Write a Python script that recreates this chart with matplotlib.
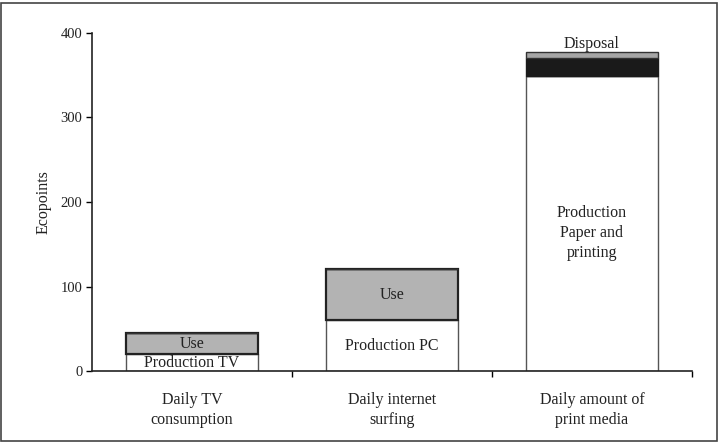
import matplotlib
matplotlib.use("Agg")
import matplotlib.pyplot as plt
from matplotlib.patches import Rectangle

categories = ["Daily TV\nconsumption", "Daily internet\nsurfing", "Daily amount of\nprint media"]
production = [20, 60, 349]
use = [25, 61, 0]
transport = [0, 0, 21]
disposal = [0, 0, 7]

production_labels = ["Production TV", "Production PC", "Production\nPaper and\nprinting"]
yticks = [0, 100, 200, 300, 400]

plt.rcParams["font.family"] = ["Liberation Serif", "DejaVu Serif"]
plt.rcParams["font.size"] = 10.5

fig = plt.figure(figsize=(7.26, 4.44), dpi=100)
ax = fig.add_axes([92 / 726, 73 / 444, 600 / 726, 338 / 444])

x = list(range(len(categories)))
w = 0.66
txt = "#222222"
fs = 11.5

ax.bar(x, production, width=w, color="white", edgecolor="#555555", linewidth=1.0, zorder=2)
ax.bar(x, use, width=w, bottom=production, color="#b3b3b3", edgecolor="#222222",
       linewidth=1.6, zorder=3)
b2 = [p + u for p, u in zip(production, use)]
ax.bar(x, transport, width=w, bottom=b2, color="#1a1a1a", edgecolor="#1a1a1a",
       linewidth=1.0, zorder=3)
b3 = [b + t for b, t in zip(b2, transport)]
ax.bar(x, disposal, width=w, bottom=b3, color="#a6a6a6", edgecolor="#333333",
       linewidth=1.0, zorder=3)

# labels inside segments
for i in x:
    if use[i] > 0:
        ax.text(i, production[i] + use[i] / 2, "Use", ha="center", va="center",
                fontsize=fs, color=txt, zorder=4)
ax.text(0, production[0] / 2 - 1, production_labels[0], ha="center", va="center",
        fontsize=fs, color=txt, zorder=4)
ax.text(1, production[1] / 2, production_labels[1], ha="center", va="center",
        fontsize=fs, color=txt, zorder=4)
ax.text(2, 163, production_labels[2], ha="center", va="center",
        fontsize=fs, color=txt, linespacing=1.35, zorder=4)
ax.text(2, b3[2] + disposal[2] + 1, "Disposal", ha="center", va="bottom",
        fontsize=fs, color=txt, zorder=4)

ax.set_xlim(-0.5, 2.5)
ax.set_ylim(0, 400)
ax.set_yticks(yticks)
ax.set_xticks(x)
ax.set_xticklabels(categories, linespacing=1.35, color=txt, fontsize=fs)
ax.set_xticks([0.5, 1.5, 2.5], minor=True)
ax.tick_params(axis="x", which="major", length=0, pad=15)
ax.tick_params(axis="x", which="minor", length=4, direction="out", width=1)
ax.tick_params(axis="y", length=4, direction="out", width=1, labelcolor=txt, pad=3)
ax.set_ylabel("Ecopoints", color=txt, fontsize=fs, labelpad=6)

for s in ["top", "right"]:
    ax.spines[s].set_visible(False)
for s in ["left", "bottom"]:
    ax.spines[s].set_linewidth(1.2)
    ax.spines[s].set_color("#222222")

# frame around the whole figure
fig.patches.append(Rectangle((1 / 726, 3 / 444), 716 / 726, 438 / 444, transform=fig.transFigure,
                             fill=False, edgecolor="#444444", linewidth=1.2))

fig.savefig("out.png", dpi=100)
